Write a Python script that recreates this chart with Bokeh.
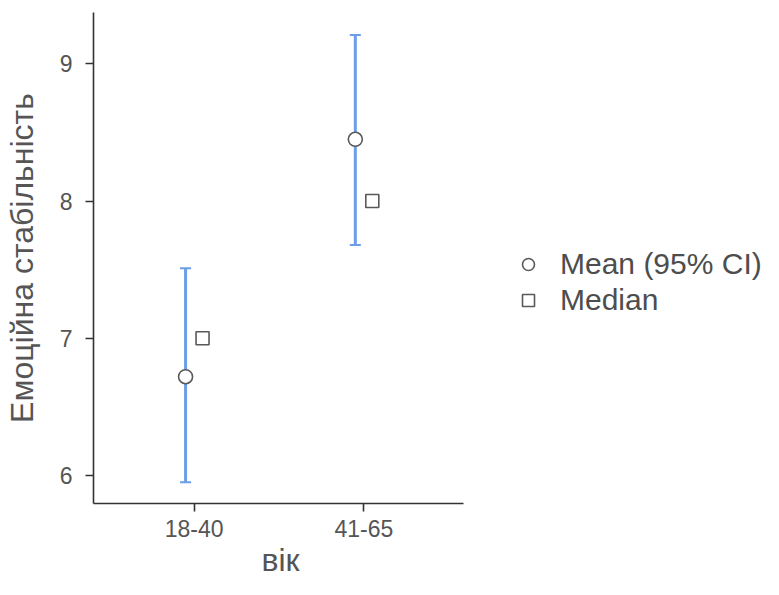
from bokeh.plotting import figure
from bokeh.models import ColumnDataSource, Whisker, TeeHead, Legend, LegendItem, FixedTicker, Range1d, Title
from bokeh.embed import file_html
from bokeh.resources import INLINE

categories = ["18-40", "41-65"]
means = [6.72, 8.45]
ci_lower = [5.95, 7.68]
ci_upper = [7.51, 9.21]
medians = [7.0, 8.0]
y_ticks = [6, 7, 8, 9]

pos = [i + 1 for i in range(len(categories))]
dodge = 0.05
src_mean = ColumnDataSource(dict(x=[p_ - dodge for p_ in pos], mean=means, lower=ci_lower, upper=ci_upper))
src_med = ColumnDataSource(dict(x=[p_ + dodge for p_ in pos], median=medians))

FONT = "Liberation Sans"
TXT = "#555555"
AX = "#333333"

W, H = 763, 579
LEFT, TOP, BOTTOM = 92, 12, 76
PX_PER_UNIT = 170.0
X0 = 0.4076
x_end = X0 + (W - LEFT) / PX_PER_UNIT

p = figure(width=W, height=H, output_backend="svg", toolbar_location=None,
           x_range=Range1d(X0, x_end), y_range=Range1d(5.796, 9.374),
           min_border_left=LEFT, min_border_right=0, min_border_top=TOP, min_border_bottom=BOTTOM)
p.outline_line_color = None
p.xgrid.visible = False
p.ygrid.visible = False
p.background_fill_color = "white"
p.border_fill_color = "white"

wh = Whisker(source=src_mean, base="x", upper="upper", lower="lower",
             line_color="#6b9de8", line_width=3,
             upper_head=TeeHead(size=11, line_color="#6b9de8", line_width=2),
             lower_head=TeeHead(size=11, line_color="#6b9de8", line_width=2))
p.add_layout(wh)

r_mean = p.scatter("x", "mean", source=src_mean, marker="circle", size=14,
                   fill_color="white", line_color="#595959", line_width=1.6)
r_med = p.scatter("x", "median", source=src_med, marker="square", size=13,
                  fill_color="white", line_color="#595959", line_width=1.6)

p.xaxis.ticker = FixedTicker(ticks=pos)
p.xaxis.major_label_overrides = {pp: c for pp, c in zip(pos, categories)}
p.xaxis.bounds = (X0, 2.59)
p.yaxis.ticker = FixedTicker(ticks=y_ticks)

for ax in (p.xaxis[0], p.yaxis[0]):
    ax.axis_line_color = AX
    ax.axis_line_width = 1.6
    ax.major_tick_line_color = AX
    ax.major_tick_line_width = 1.6
    ax.major_tick_out = 8
    ax.major_tick_in = 0
    ax.minor_tick_line_color = None
    ax.major_label_text_font = FONT
    ax.major_label_text_font_size = "23px"
    ax.major_label_text_color = TXT
    ax.axis_label_text_font = FONT
    ax.axis_label_text_font_size = "32px"
    ax.axis_label_text_color = TXT
    ax.axis_label_text_font_style = "normal"

p.yaxis.axis_label = "Емоційна стабільність"
p.xaxis.major_label_standoff = 8
p.yaxis.major_label_standoff = 13
p.yaxis.axis_label_standoff = 17

xtitle = Title(text="вік", align="left", offset=168, standoff=0,
               text_font=FONT, text_font_size="32px", text_color=TXT, text_font_style="normal")
p.add_layout(xtitle, "below")

legend = Legend(items=[LegendItem(label="Mean (95% CI)", renderers=[r_mean]),
                       LegendItem(label="Median", renderers=[r_med])],
                location=(420, 185), orientation="vertical",
                label_text_font=FONT, label_text_font_size="30px", label_text_color="#4d4d4d",
                glyph_width=30, glyph_height=36, label_height=36, label_standoff=17,
                padding=0, spacing=0, margin=0, border_line_color=None,
                background_fill_alpha=0)
p.add_layout(legend)

open("out.html", "w").write(file_html(p, INLINE))
